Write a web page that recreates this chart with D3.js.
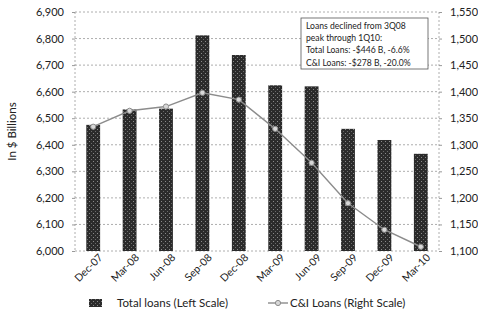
<!DOCTYPE html>
<html>
<head>
<meta charset="utf-8">
<title>Loans</title>
<script src="https://d3js.org/d3.v7.min.js"></script>
<style>
  body { margin: 0; background: #fff; }
  text { font-family: Lato, "Open Sans", sans-serif; fill: #222; }
</style>
</head>
<body>
<script>
// data
const quarters = ["Dec-07","Mar-08","Jun-08","Sep-08","Dec-08","Mar-09","Jun-09","Sep-09","Dec-09","Mar-10"];
const totalLoans = [6475, 6533, 6536, 6812, 6738, 6624, 6620, 6460, 6418, 6366];
const ciLoans = [1334, 1364, 1372, 1398, 1385, 1330, 1266, 1190, 1140, 1108];
const leftTicks = [6000, 6100, 6200, 6300, 6400, 6500, 6600, 6700, 6800, 6900];
const rightTicks = [1100, 1150, 1200, 1250, 1300, 1350, 1400, 1450, 1500, 1550];
const noteLines = ["Loans declined from 3Q08", "peak through 1Q10:", "Total Loans:  -$446 B, -6.6%", "C&I Loans: -$278 B, -20.0%"];

const W = 478, H = 318;
const margin = { top: 12, right: 39, bottom: 67, left: 75 };

const svg = d3.select("body").append("svg")
  .attr("width", W).attr("height", H);

const defs = svg.append("defs");
const pat = defs.append("pattern").attr("id", "tex")
  .attr("patternUnits", "userSpaceOnUse").attr("width", 4).attr("height", 4);
pat.append("rect").attr("width", 4).attr("height", 4).attr("fill", "#2b2b2b");
pat.append("rect").attr("x", 1).attr("y", 1).attr("width", 1).attr("height", 1).attr("fill", "#8a8a8a");
pat.append("rect").attr("x", 3).attr("y", 3).attr("width", 1).attr("height", 1).attr("fill", "#6a6a6a");

const x = d3.scaleBand().domain(quarters)
  .range([margin.left, W - margin.right]).paddingInner(0.62).paddingOuter(0.31);
const yL = d3.scaleLinear().domain([6000, 6900]).range([H - margin.bottom, margin.top]);
const yR = d3.scaleLinear().domain([1100, 1550]).range([H - margin.bottom, margin.top]);

// gridlines
svg.append("g").selectAll("line").data(leftTicks).join("line")
  .attr("x1", margin.left).attr("x2", W - margin.right)
  .attr("y1", d => yL(d)).attr("y2", d => yL(d))
  .attr("stroke", "#999").attr("stroke-width", 0.8).attr("stroke-dasharray", "2,2");

// side frame lines
svg.append("g").selectAll("line").data([margin.left, W - margin.right]).join("line")
  .attr("x1", d => d).attr("x2", d => d)
  .attr("y1", margin.top).attr("y2", H - margin.bottom)
  .attr("stroke", "#999").attr("stroke-width", 0.8).attr("stroke-dasharray", "2,2");

// bars
svg.append("g").selectAll("rect").data(quarters).join("rect")
  .attr("x", d => x(d))
  .attr("width", x.bandwidth())
  .attr("y", (d, i) => yL(totalLoans[i]))
  .attr("height", (d, i) => yL(6000) - yL(totalLoans[i]))
  .attr("fill", "url(#tex)");

// axes
const leftAxis = svg.append("g")
  .attr("transform", `translate(${margin.left},0)`)
  .call(d3.axisLeft(yL).tickValues(leftTicks).tickFormat(d3.format(",")).tickSize(3).tickPadding(8));
const rightAxis = svg.append("g")
  .attr("transform", `translate(${W - margin.right},0)`)
  .call(d3.axisRight(yR).tickValues(rightTicks).tickFormat(d3.format(",")).tickSize(3).tickPadding(8));
const bottomAxis = svg.append("g")
  .attr("transform", `translate(0,${H - margin.bottom})`)
  .call(d3.axisBottom(x).tickSize(0).tickPadding(6));

[leftAxis, rightAxis, bottomAxis].forEach(g => {
  g.select(".domain").remove();
  g.selectAll("line").attr("stroke", "#999");
  g.selectAll("text").style("font-size", "11px").attr("fill", "#222");
});
bottomAxis.selectAll("text")
  .attr("text-anchor", "end")
  .attr("dx", "0.2em").attr("dy", "0.6em")
  .attr("transform", "rotate(-45)")
  .style("font-size", "10.5px");

// C&I line
const line = d3.line()
  .x((d, i) => x(quarters[i]) + x.bandwidth() / 2)
  .y(d => yR(d));
svg.append("path").datum(ciLoans)
  .attr("d", line).attr("fill", "none")
  .attr("stroke", "#8c8c8c").attr("stroke-width", 1.4);
svg.append("g").selectAll("circle").data(ciLoans).join("circle")
  .attr("cx", (d, i) => x(quarters[i]) + x.bandwidth() / 2)
  .attr("cy", d => yR(d))
  .attr("r", 2.6)
  .attr("fill", "#d8d8d8").attr("stroke", "#8c8c8c").attr("stroke-width", 1);

// y label
svg.append("text")
  .attr("transform", `translate(16,${(margin.top + H - margin.bottom) / 2}) rotate(-90)`)
  .attr("text-anchor", "middle")
  .style("font-size", "11.5px")
  .text("In $ Billions");

// note box
const note = svg.append("g").attr("transform", "translate(301,18)");
note.append("rect").attr("width", 127).attr("height", 51)
  .attr("fill", "#fff").attr("stroke", "#555").attr("stroke-width", 0.8);
note.selectAll("text").data(noteLines).join("text")
  .attr("x", 5).attr("y", (d, i) => 11 + i * 12.2)
  .style("font-size", "8.6px")
  .text(d => d);

// legend
const leg = svg.append("g").attr("transform", `translate(0,${H - 14})`);
leg.append("rect").attr("x", 89).attr("y", -5).attr("width", 13).attr("height", 8).attr("fill", "url(#tex)");
leg.append("text").attr("x", 117).attr("y", 3).style("font-size", "11.5px").text("Total loans (Left Scale)");
leg.append("line").attr("x1", 268).attr("x2", 288).attr("y1", -1).attr("y2", -1)
  .attr("stroke", "#8c8c8c").attr("stroke-width", 1.4);
leg.append("circle").attr("cx", 278).attr("cy", -1).attr("r", 2.6)
  .attr("fill", "#d8d8d8").attr("stroke", "#8c8c8c");
leg.append("text").attr("x", 290).attr("y", 3).style("font-size", "11.5px").text("C&I Loans (Right Scale)");
</script>
</body>
</html>
